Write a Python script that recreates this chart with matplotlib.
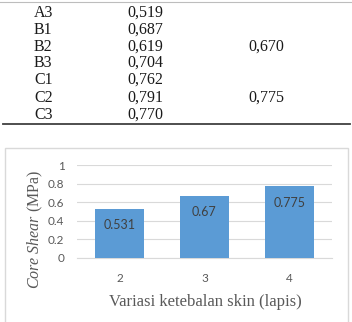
import matplotlib
matplotlib.use("Agg")
import matplotlib.pyplot as plt
from matplotlib.patches import Rectangle
from matplotlib.lines import Line2D

# table rows above the chart
table_labels = ["A3", "B1", "B2", "B3", "C1", "C2", "C3"]
table_values = ["0,519", "0,687", "0,619", "0,704", "0,762", "0,791", "0,770"]
table_avg = ["", "", "0,670", "", "", "0,775", ""]

# chart data
categories = ["2", "3", "4"]
core_shear = [0.531, 0.67, 0.775]
yticks = [0, 0.2, 0.4, 0.6, 0.8, 1]

W, H = 352, 322
plt.rcParams["mathtext.fontset"] = "custom"
plt.rcParams["mathtext.it"] = "Liberation Serif:italic"
plt.rcParams["mathtext.rm"] = "Liberation Serif"

fig = plt.figure(figsize=(W / 100, H / 100), dpi=100)

def px(x, y):
    return x / W, 1 - y / H

# table
fig.add_artist(Line2D([0, 1], [1 - 1.5 / H] * 2, color="#bdbdbd", lw=0.8))
fig.add_artist(Line2D([3 / W, 350 / W], [1 - 123.5 / H] * 2, color="#404040", lw=1.3))
row_y = [13, 30, 47, 63, 80, 98, 115]
for lab, val, avg, y in zip(table_labels, table_values, table_avg, row_y):
    fig.text(*px(34, y), lab, family="Liberation Serif", fontsize=11.5, va="center", color="#1a1a1a")
    fig.text(*px(127, y), val, family="Liberation Serif", fontsize=11.5, va="center", color="#1a1a1a")
    if avg:
        fig.text(*px(248, y), avg, family="Liberation Serif", fontsize=11.5, va="center", color="#1a1a1a")

# chart border
fig.add_artist(Rectangle(px(4.5, 330), 343.5 / W, 182 / H, transform=fig.transFigure,
                         fill=False, edgecolor="#d9d9d9", lw=1))

ax = fig.add_axes([77 / W, (H - 258) / H, 255 / W, 93 / H])
x = range(len(categories))
bars = ax.bar(x, core_shear, width=0.565, color="#5b9bd5", zorder=3)
ax.set_xlim(-0.5, len(categories) - 0.5)
ax.set_ylim(0, 1)
ax.set_yticks(yticks)
ax.set_yticklabels([f"{t:g}" for t in yticks])
ax.set_xticks(list(x))
ax.set_xticklabels(categories)
ax.grid(axis="y", color="#d9d9d9", lw=0.8, zorder=0)
for s in ["top", "right", "left"]:
    ax.spines[s].set_visible(False)
ax.spines["bottom"].set_color("#d9d9d9")
ax.tick_params(length=0, labelsize=8.5, labelcolor="#595959")
ax.tick_params(axis="x", pad=11)
ax.tick_params(axis="y", pad=9)
for lab in ax.get_xticklabels() + ax.get_yticklabels():
    lab.set_family("Lato")

for b, v in zip(bars, core_shear):
    ax.annotate(f"{v:g}", (b.get_x() + b.get_width() / 2, v), xytext=(0, -12),
                textcoords="offset points", ha="center", va="center",
                fontsize=9, family="Lato", color="#404040", zorder=4)

fig.text(*px(205, 302), "Variasi ketebalan skin (lapis)", family="Liberation Serif",
         fontsize=12, color="#595959", ha="center", va="center")
fig.text(*px(35, 229), r"$\mathit{Core\ Shear}$ (MPa)", family="Liberation Serif",
         fontsize=11.5, color="#595959", ha="center", va="center", rotation=90)

fig.savefig("out.png", dpi=100)
